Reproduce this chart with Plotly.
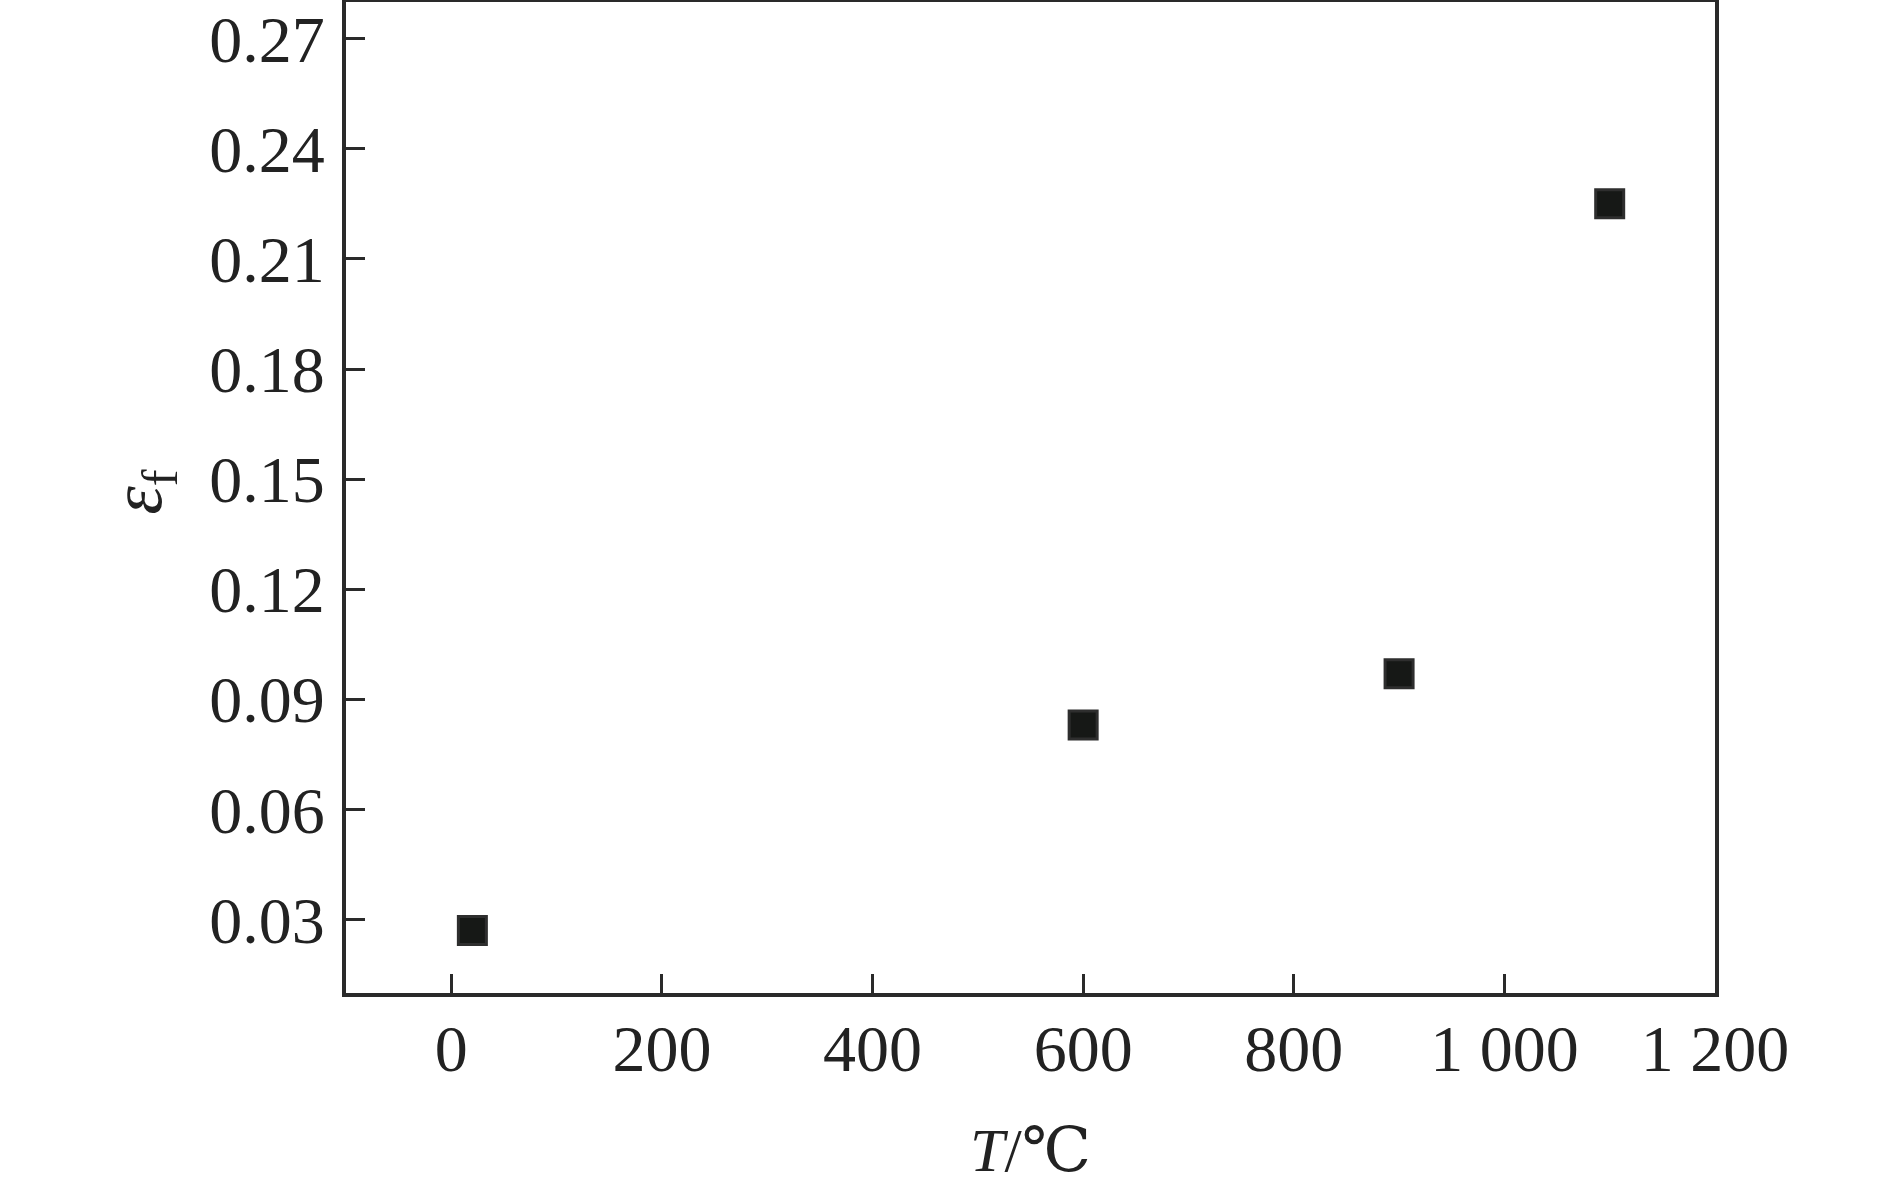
import plotly.graph_objects as go

temperature = [20, 600, 900, 1100]
strain = [0.027, 0.083, 0.097, 0.225]

x_tickvals = [0, 200, 400, 600, 800, 1000, 1200]
x_ticktext = ["0", "200", "400", "600", "800", "1 000", "1 200"]
y_tickvals = [0.03, 0.06, 0.09, 0.12, 0.15, 0.18, 0.21, 0.24, 0.27]
y_ticktext = ["0.03", "0.06", "0.09", "0.12", "0.15", "0.18", "0.21", "0.24", "0.27"]

x_title = "<i>T</i>/<span style=\"font-family: DejaVu Serif\">℃</span>"
y_title = "<i>ε</i><sub>f</sub>"

axis_color = "#2a2a2a"
font_family = "Liberation Serif, Times New Roman, serif"

fig = go.Figure()
fig.add_trace(go.Scatter(
    x=temperature, y=strain, mode="markers",
    marker=dict(symbol="square", size=28, color="#161816",
                line=dict(color="#2e2e2e", width=3)),
    showlegend=False,
))

fig.update_layout(
    width=1890, height=1194,
    margin=dict(l=346, r=175, t=2, b=201, autoexpand=False),
    paper_bgcolor="white", plot_bgcolor="white",
    font=dict(family=font_family, size=66, color="#222222"),
    annotations=[
        dict(text=x_title, xref="paper", yref="paper", x=0.5, y=-0.158,
             xanchor="center", yanchor="middle", showarrow=False,
             font=dict(size=62)),
        dict(text=y_title, xref="paper", yref="paper", x=-0.149, y=0.505,
             xanchor="center", yanchor="middle", showarrow=False,
             textangle=-90, font=dict(size=72)),
    ],
)
fig.update_xaxes(
    range=[-100, 1200], tickvals=x_tickvals, ticktext=x_ticktext,
    ticks="inside", ticklen=19, tickwidth=3, tickcolor=axis_color,
    showline=True, linewidth=4, linecolor=axis_color, mirror=True,
    showgrid=False, zeroline=False, ticklabelstandoff=-5, automargin=False,
)
fig.update_yaxes(
    range=[0.01, 0.28], tickvals=y_tickvals, ticktext=y_ticktext,
    ticks="inside", ticklen=19, tickwidth=3, tickcolor=axis_color,
    showline=True, linewidth=4, linecolor=axis_color, mirror=True,
    showgrid=False, zeroline=False, ticklabelstandoff=4, automargin=False,
)

fig.write_html("out.html", config={"displayModeBar": False},
               post_script="document.body.style.margin='0';")
